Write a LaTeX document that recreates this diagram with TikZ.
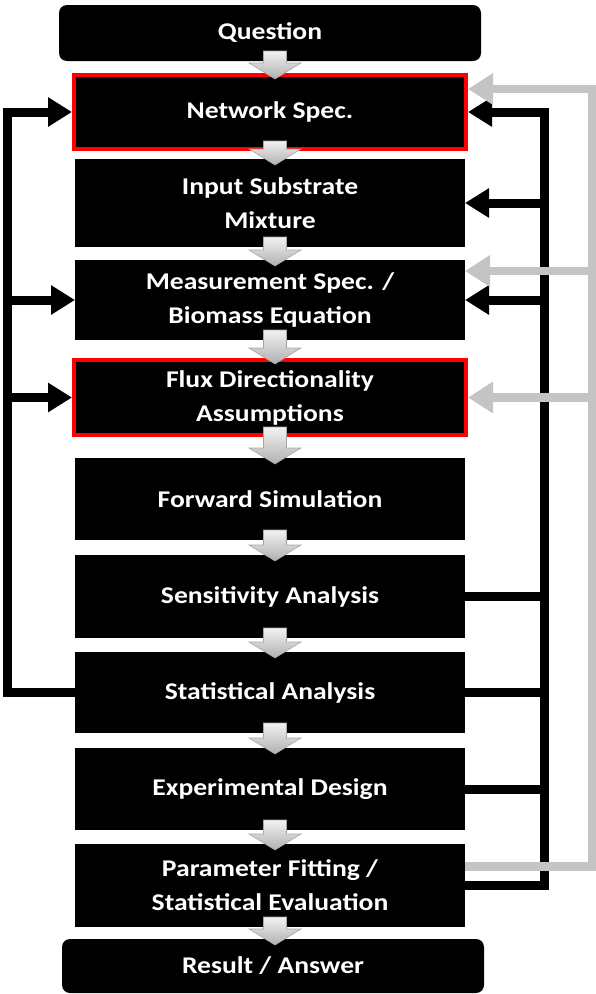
\documentclass[tikz,border=0pt]{standalone}
\usepackage{fontspec}
\setmainfont{Carlito}[FakeStretch=1.15]
\usetikzlibrary{arrows.meta,positioning,calc}

\definecolor{railgray}{RGB}{196,196,196}

\begin{document}
\begin{tikzpicture}[
  x=1pt, y=-1pt,
  font=\fontsize{24}{34}\selectfont\bfseries,
  box/.style={fill=black, text=white, align=center, outer sep=0pt, minimum width=390pt, minimum height=82pt, inner sep=2pt},
  endbox/.style={box, rounded corners=8pt, minimum width=422pt},
  marked/.style={box, draw=red, line width=4pt, minimum width=392pt, outer sep=2pt},
  flow/.style={top color=gray!10, bottom color=gray!62, draw=gray!70, line width=0.6pt},
  back/.style={line width=9pt, black, -{Triangle[length=24pt, width=28pt]}},
  backline/.style={line width=9pt, black},
  redo/.style={line width=8.5pt, railgray, -{Triangle[length=25pt, width=30pt]}}
]
  \useasboundingbox (0,0) rectangle (596,994);

  \node[endbox, minimum height=56pt] (q) at (270,33) {Question};
  \node[marked, below=12pt of q, minimum height=74pt] (net) {Network Spec.};
  \node[box, below=8pt of net, minimum height=88pt] (inp) {Input Substrate\\Mixture};
  \node[box, below=13pt of inp, minimum height=80pt] (meas) {Measurement Spec. /\\Biomass Equation};
  \node[marked, below=18pt of meas, minimum height=75pt] (flux) {Flux Directionality\\Assumptions};
  \node[box, below=21pt of flux] (fwd) {Forward Simulation};
  \node[box, below=15pt of fwd, minimum height=83pt] (sens) {Sensitivity Analysis};
  \node[box, below=14pt of sens, minimum height=81pt] (stat) {Statistical Analysis};
  \node[box, below=15pt of stat] (exp) {Experimental Design};
  \node[box, below=14pt of exp, minimum height=83pt] (par) {Parameter Fitting /\\Statistical Evaluation};
  \node[endbox, below=12pt of par, minimum height=54pt, xshift=3pt] (res) {Result / Answer};

  \coordinate (spine) at (275,500);
  \coordinate (lrail) at (7.5,500);
  \coordinate (rrail) at (544.5,500);
  \coordinate (grail) at (592,500);

  % main sequence
  \foreach \a/\b in {q/net, net/inp, inp/meas, meas/flux, flux/fwd, fwd/sens, sens/stat, stat/exp, exp/par, par/res}
    \shade[flow] let \p1=(\a.south), \p2=(\b.north), \p3=(spine) in
      (\x3-11.5pt,\y1+10pt) -- (\x3+11.5pt,\y1+10pt) -- (\x3+11.5pt,\y2+10pt)
      -- (\x3+26pt,\y2+10pt) -- (\x3,\y2-6pt) -- (\x3-26pt,\y2+10pt)
      -- (\x3-11.5pt,\y2+10pt) -- cycle;

  % left loop
  \draw[back] (stat.west) -| (lrail) |- (net.west);
  \draw[back] (lrail |- meas.west) -- (meas.west);
  \draw[back] (lrail |- flux.west) -- (flux.west);

  % right loop
  \draw[back] (par.east) -| (rrail) |- (net.east);
  \draw[back] (rrail |- inp.east) -- (inp.east);
  \draw[back] (rrail |- meas.east) -- (meas.east);
  \foreach \n in {sens, stat, exp}
    \draw[backline] (\n.east) -- (\n.east -| rrail);

  % outer loop
  \coordinate (ng) at ([yshift=23pt]net.east);
  \coordinate (mg) at ([yshift=29pt]meas.east);
  \draw[redo] ([yshift=19pt]par.east) -| (grail) |- (ng);
  \draw[redo] (grail |- mg) -- (mg);
  \draw[redo] (grail |- flux.east) -- (flux.east);
\end{tikzpicture}
\end{document}
